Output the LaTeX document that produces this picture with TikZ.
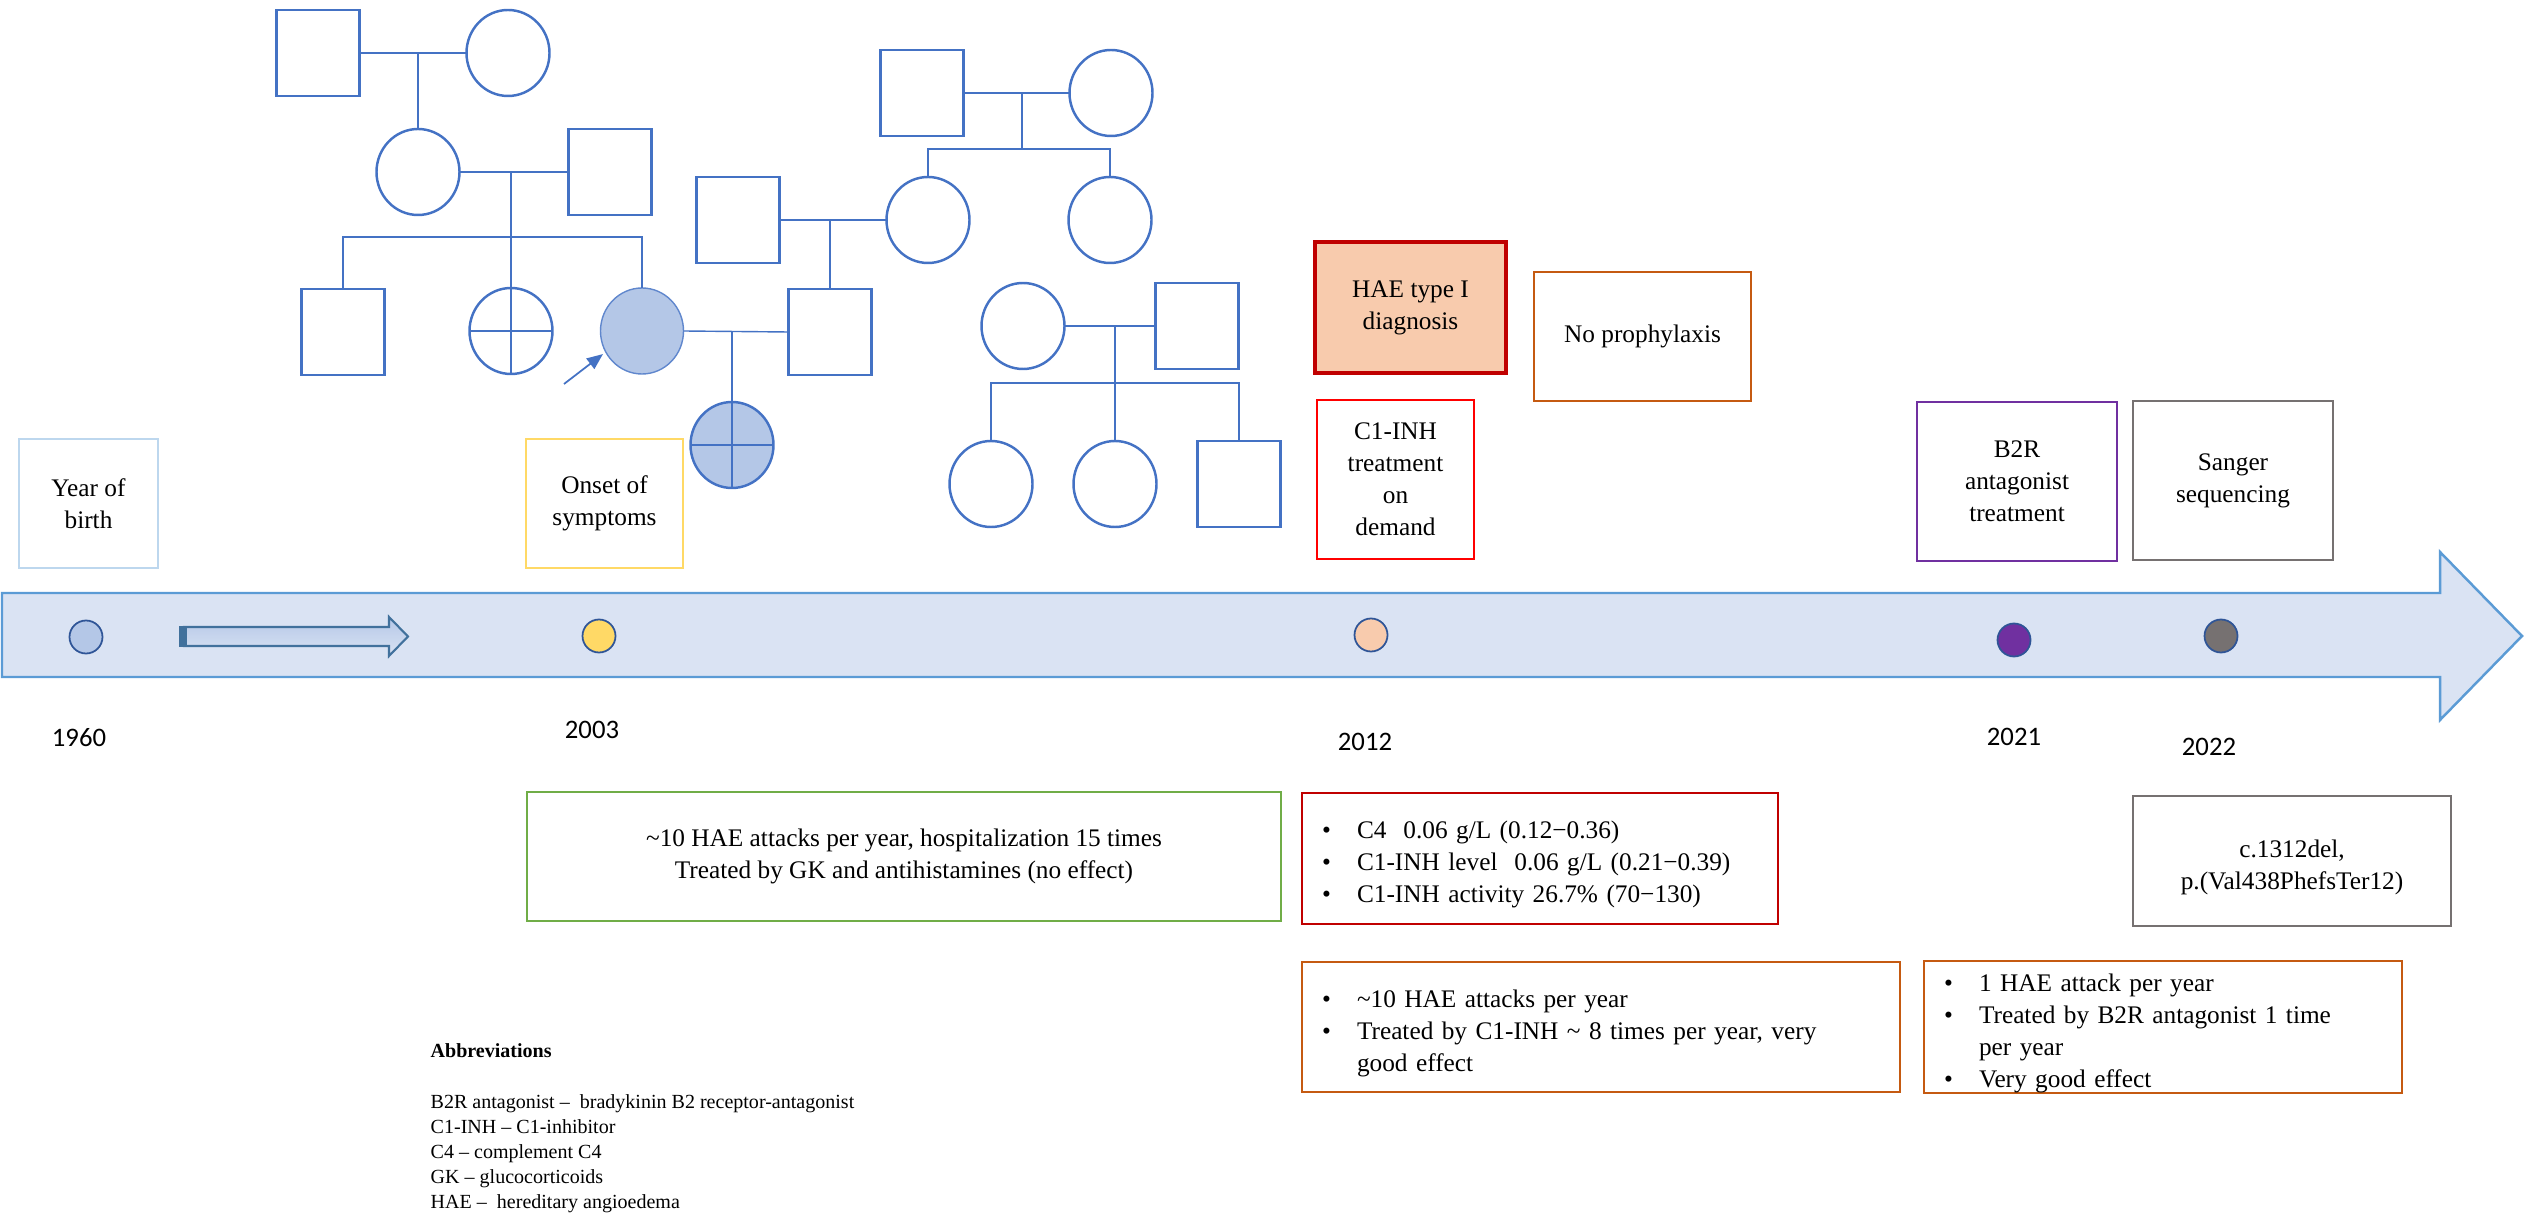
\documentclass[tikz,border=0pt]{standalone}
\usepackage{fontspec}
\setmainfont{Liberation Serif}
\newfontfamily\yearfont{Carlito}
\usetikzlibrary{arrows.meta,shapes.geometric}
\definecolor{pedblue}{HTML}{4472C4}
\definecolor{pedfill}{HTML}{B4C7E7}
\definecolor{bandfill}{HTML}{DAE3F3}
\definecolor{bandline}{HTML}{5B9BD5}
\definecolor{dotline}{HTML}{2F5597}
\definecolor{arrowedge}{HTML}{41719C}
\definecolor{birthblue}{HTML}{BDD7EE}
\definecolor{onsetyellow}{HTML}{FFD966}
\definecolor{diagred}{HTML}{C00000}
\definecolor{diagfill}{HTML}{F8CBAD}
\definecolor{brightred}{HTML}{FF0000}
\definecolor{rustorange}{HTML}{C55A11}
\definecolor{b2rpurple}{HTML}{7030A0}
\definecolor{seqgray}{HTML}{767171}
\definecolor{leafgreen}{HTML}{70AD47}
\newcommand{\itm}{\makebox[0.35cm][l]{\textbullet}}
\newcommand{\hang}{\hspace*{0.35cm}}
\newcommand{\lift}{\rule{0pt}{8.5pt}}

\begin{document}
\begin{tikzpicture}[y=-1cm,
	male/.style={draw=pedblue, line width=0.7pt, minimum width=0.83cm, minimum height=0.86cm, inner sep=0, outer sep=0},
	female/.style={ellipse, draw=pedblue, line width=0.7pt, minimum width=0.83cm, minimum height=0.86cm, inner sep=0, outer sep=0},
	kin/.style={pedblue, line width=0.4pt},
	event/.style={draw, line width=0.6pt, align=center, inner sep=0, font=\fontsize{7.2}{9.1}\selectfont},
	factbox/.style={event, align=left, inner xsep=0.2cm, inner ysep=0},
	yeardot/.style={circle, draw=dotline, line width=0.5pt, minimum size=0.33cm, inner sep=0},
	yearlabel/.style={font=\yearfont\fontsize{7.6}{9}\selectfont, inner sep=0}]
	\useasboundingbox (0,0) rectangle (25.29,12.16);
	
	\draw[draw=bandline, fill=bandfill, line width=0.7pt] (0.02,5.93) -- (24.40,5.93) -- (24.40,5.52) -- (25.22,6.36) -- (24.40,7.20) -- (24.40,6.77) -- (0.02,6.77) -- cycle;
	\draw[draw=arrowedge, top color=pedfill, bottom color=bandfill, line width=0.6pt] (1.84,6.27) -- (3.89,6.27) -- (3.89,6.17) -- (4.08,6.365) -- (3.89,6.56) -- (3.89,6.46) -- (1.84,6.46) -- cycle;
	\fill[arrowedge] (1.79,6.26) rectangle (1.87,6.47);
	
	\node[yeardot, fill=pedfill] at (0.86,6.37) (d1960) {};
	\node[yeardot, fill=onsetyellow] at (5.99,6.36) (d2003) {};
	\node[yeardot, fill=diagfill] at (13.71,6.35) (d2012) {};
	\node[yeardot, fill=b2rpurple] at (20.14,6.40) (d2021) {};
	\node[yeardot, fill=seqgray] at (22.21,6.36) (d2022) {};
	
	\node[yearlabel] at (0.79,7.38) (y1960) {1960};
	\node[yearlabel] at (5.92,7.30) (y2003) {2003};
	\node[yearlabel] at (13.65,7.42) (y2012) {2012};
	\node[yearlabel] at (20.14,7.37) (y2021) {2021};
	\node[yearlabel] at (22.09,7.47) (y2022) {2022};
	
	\node[event, draw=birthblue, minimum width=1.39cm, minimum height=1.29cm] at (0.885,5.035) (birth) {Year of\\birth};
	\node[event, draw=onsetyellow, minimum width=1.57cm, minimum height=1.29cm] at (6.045,5.035) (onset) {Onset of\\symptoms};
	\node[event, draw=diagred, fill=diagfill, line width=1pt, minimum width=1.91cm, minimum height=1.31cm] at (14.105,3.075) (diag) {HAE type I\\diagnosis};
	\node[event, draw=rustorange, minimum width=2.17cm, minimum height=1.29cm] at (16.425,3.365) (noproph) {No prophylaxis};
	\node[event, draw=brightred, minimum width=1.57cm, minimum height=1.59cm] at (13.955,4.795) (ondemand) {C1-INH\\treatment\\on\\demand};
	\node[event, draw=b2rpurple, minimum width=2.00cm, minimum height=1.59cm] at (20.17,4.815) (b2r) {B2R\\antagonist\\treatment};
	\node[event, draw=seqgray, minimum width=2.00cm, minimum height=1.59cm] at (22.33,4.805) (sanger) {Sanger\\sequencing};
	
	\node[event, draw=leafgreen, minimum width=7.54cm, minimum height=1.29cm] at (9.04,8.565) (attacks) {\textasciitilde10 HAE attacks per year, hospitalization 15 times\\Treated by GK and antihistamines (no effect)};
	\node[factbox, draw=diagred, text width=4.36cm, minimum height=1.31cm] at (15.40,8.585) (labs) {\lift\itm C4\ \ 0.06 g/L (0.12−0.36)\\\itm C1-INH level\ \ 0.06 g/L (0.21−0.39)\\\itm C1-INH activity 26.7\% (70−130)};
	\node[event, draw=seqgray, minimum width=3.18cm, minimum height=1.30cm] at (22.92,8.61) (variant) {\lift c.1312del,\\p.(Val438PhefsTer12)};
	\node[factbox, draw=rustorange, text width=5.58cm, minimum height=1.30cm] at (16.01,10.27) (c1effect) {\lift\itm \textasciitilde10 HAE attacks per year\\\itm Treated by C1-INH \textasciitilde{} 8 times per year, very\\\hang good effect};
	\node[factbox, draw=rustorange, text width=4.38cm, minimum height=1.30cm] at (21.63,10.27) (b2effect) {\lift\itm 1 HAE attack per year\\\itm Treated by B2R antagonist 1 time\\\hang per year\\\itm Very good effect};
	
	\node[anchor=north west, align=left, inner sep=0, font=\fontsize{5.7}{7.1}\selectfont] at (4.30,10.43) (abbr) {\textbf{Abbreviations}\\[7.4pt]B2R antagonist –\ \ bradykinin B2 receptor-antagonist\\C1-INH – C1-inhibitor\\C4 – complement C4\\GK – glucocorticoids\\HAE –\ \ hereditary angioedema};
	
	\node[male] at (3.18,0.53) (gf) {};
	\node[female] at (5.08,0.53) (gm) {};
	\node[female] at (4.18,1.72) (mo) {};
	\node[male] at (6.10,1.72) (fa) {};
	\node[male] at (3.43,3.32) (br) {};
	\node[female] at (5.11,3.31) (si) {};
	\node[female, fill=pedfill, draw=pedblue!85, line width=0.4pt] at (6.42,3.31) (pro) {};
	\node[male] at (8.30,3.32) (hu) {};
	\node[female, fill=pedfill] at (7.32,4.45) (da) {};
	\node[male] at (7.38,2.20) (hf) {};
	\node[female] at (9.28,2.20) (hm) {};
	\node[male] at (9.22,0.93) (hgf) {};
	\node[female] at (11.11,0.93) (hgm) {};
	\node[female] at (11.10,2.20) (ha) {};
	\node[female] at (10.23,3.26) (wm) {};
	\node[male] at (11.97,3.26) (wf) {};
	\node[female] at (9.91,4.84) (c1) {};
	\node[female] at (11.15,4.84) (c2) {};
	\node[male] at (12.39,4.84) (c3) {};
	
	\draw[pedblue, line width=0.7pt] (si.north) -- (si.south) (si.west) -- (si.east);
	\draw[pedblue, line width=0.7pt] (da.north) -- (da.south) (da.west) -- (da.east);
	
	\draw[kin] (gf.east) -- (gm.west);
	\draw[kin] (mo.north) -- (mo.north |- gf.east);
	\draw[kin] (mo.east) -- (fa.west);
	\draw[kin] (si.north) -- (si.north |- mo.east);
	\draw[kin] (br.north) -- ++(0,-0.52) -| (pro.north);
	\draw[kin] (hgf.east) -- coordinate[pos=0.55] (hgp) (hgm.west);
	\draw[kin] (hgp) -- ++(0,0.56);
	\draw[kin] (hm.north) -- ++(0,-0.28) -| (ha.north);
	\draw[kin] (hf.east) -- (hm.west);
	\draw[kin] (hu.north) -- (hu.north |- hf.east);
	\draw[kin] (pro.east) -- (hu.west);
	\draw[kin] (da.north) -- (da.north |- pro.east);
	\draw[kin] (wm.east) -- (wf.west);
	\draw[kin] (c2.north) -- (c2.north |- wm.east);
	\draw[kin] (c1.north) -- ++(0,-0.58) -| (c3.north);
	
	\coordinate (pointer) at (5.64,3.84);
	\draw[pedblue, line width=0.5pt, -{Triangle[length=0.16cm,width=0.13cm]}, shorten >=1pt] (pointer) -- (pro.210);
\end{tikzpicture}
\end{document}
